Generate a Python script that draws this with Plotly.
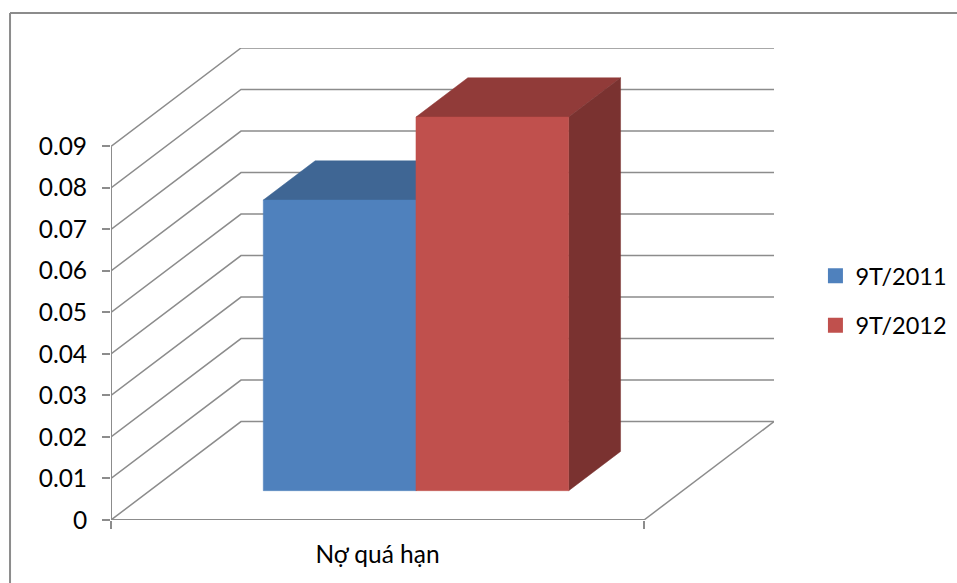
import plotly.graph_objects as go

# Chart data
categories = ["Nợ quá hạn"]
series_names = ["9T/2011", "9T/2012"]
series_values = [0.07, 0.09]
tick_values = [0, 0.01, 0.02, 0.03, 0.04, 0.05, 0.06, 0.07, 0.08, 0.09]
tick_labels = ["0", "0.01", "0.02", "0.03", "0.04", "0.05", "0.06", "0.07", "0.08", "0.09"]

# Colours
front_colors = ["#4F81BD", "#C0504D"]
top_colors = ["#3F6694", "#913B39"]
side_colors = ["#3A5C87", "#7A3230"]
GRID = "#8C8C8C"
FONT = "Lato, Carlito, 'Open Sans', sans-serif"

# Oblique projection: depth 1 shifts a point right and up along the walls
DEPTH_X = 0.2439
DEPTH_Y = 0.0237
BAR_LEFT = 0.213
BAR_WIDTH = 0.2865
BAR_NEAR = 0.298
BAR_FAR = 0.697


def project(u, value, depth):
    return u + depth * DEPTH_X, value + depth * DEPTH_Y


def polygon(points):
    xs, ys = zip(*[project(*p) for p in points])
    return list(xs) + [xs[0]], list(ys) + [ys[0]]


fig = go.Figure()

# Wall and floor lines
grid_x, grid_y = [], []
for v in tick_values:
    for u, d in [(0, 0), (0, 1), (1, 1)]:
        x, y = project(u, v, d)
        grid_x.append(x)
        grid_y.append(y)
    grid_x.append(None)
    grid_y.append(None)
for u, d in [(1, 0), (1, 1)]:
    x, y = project(u, 0, d)
    grid_x.append(x)
    grid_y.append(y)
fig.add_trace(go.Scatter(x=grid_x, y=grid_y, mode="lines", showlegend=False, hoverinfo="skip",
                         line=dict(color=GRID, width=1.5), cliponaxis=False))

# Axis lines stop at the last tick and the category edge
fig.add_trace(go.Scatter(x=[0, 0, None, 0, 1], y=[0, tick_values[-1], None, 0, 0], mode="lines",
                         showlegend=False, hoverinfo="skip",
                         line=dict(color=GRID, width=2), cliponaxis=False))


def add_face(points, color, name):
    xs, ys = polygon(points)
    fig.add_trace(go.Scatter(x=xs, y=ys, mode="lines", fill="toself", fillcolor=color,
                             line=dict(color=color, width=0.5), showlegend=False,
                             name=name, hoverinfo="name", cliponaxis=False))


# Bars, back to front in series order
for i, (name, value) in enumerate(zip(series_names, series_values)):
    a = BAR_LEFT + i * BAR_WIDTH
    b = a + BAR_WIDTH
    add_face([(a, value, BAR_NEAR), (b, value, BAR_NEAR), (b, value, BAR_FAR), (a, value, BAR_FAR)],
             top_colors[i], name)
    add_face([(b, 0, BAR_NEAR), (b, 0, BAR_FAR), (b, value, BAR_FAR), (b, value, BAR_NEAR)],
             side_colors[i], name)
    add_face([(a, 0, BAR_NEAR), (b, 0, BAR_NEAR), (b, value, BAR_NEAR), (a, value, BAR_NEAR)],
             front_colors[i], name)

# Legend entries
for i, name in enumerate(series_names):
    fig.add_trace(go.Scatter(x=[None], y=[None], mode="markers", name=name, legendgroup=name,
                             marker=dict(symbol="square", size=15, color=front_colors[i])))

fig.update_layout(
    width=957,
    height=583,
    margin=dict(l=111, r=183, t=48, b=63, autoexpand=False),
    paper_bgcolor="white",
    plot_bgcolor="white",
    font=dict(family=FONT, size=24.5, color="#000000"),
    xaxis=dict(
        range=[0, 1 + DEPTH_X], tickvals=[0.5], ticktext=categories, ticks="", showgrid=False,
        zeroline=False, showline=False, ticklabelstandoff=17, automargin=False,
        minor=dict(tickvals=[0, 1], ticks="outside", ticklen=8, tickwidth=1.5, tickcolor=GRID, showgrid=False),
    ),
    yaxis=dict(
        range=[0, 0.09 + DEPTH_Y], tickvals=tick_values, ticktext=tick_labels, ticks="outside",
        ticklen=8, tickwidth=1.5, tickcolor=GRID, showgrid=False, zeroline=False, showline=False,
        ticklabelstandoff=10, automargin=False,
    ),
    legend=dict(x=1.0625, xanchor="left", y=0.5636, yanchor="top", tracegroupgap=16,
                bgcolor="rgba(0,0,0,0)", font=dict(size=23.5)),
    shapes=[
        # Chart frame, open towards the page edges
        dict(type="line", xref="paper", yref="paper", x0=-0.1523, x1=1.3, y0=1.0742, y1=1.0742,
             line=dict(color="#8C8C8C", width=2)),
        dict(type="line", xref="paper", yref="paper", x0=-0.1523, x1=-0.1523, y0=-0.14, y1=1.0742,
             line=dict(color="#8C8C8C", width=2)),
    ],
)

fig.write_html("out.html", config={"displayModeBar": False})
